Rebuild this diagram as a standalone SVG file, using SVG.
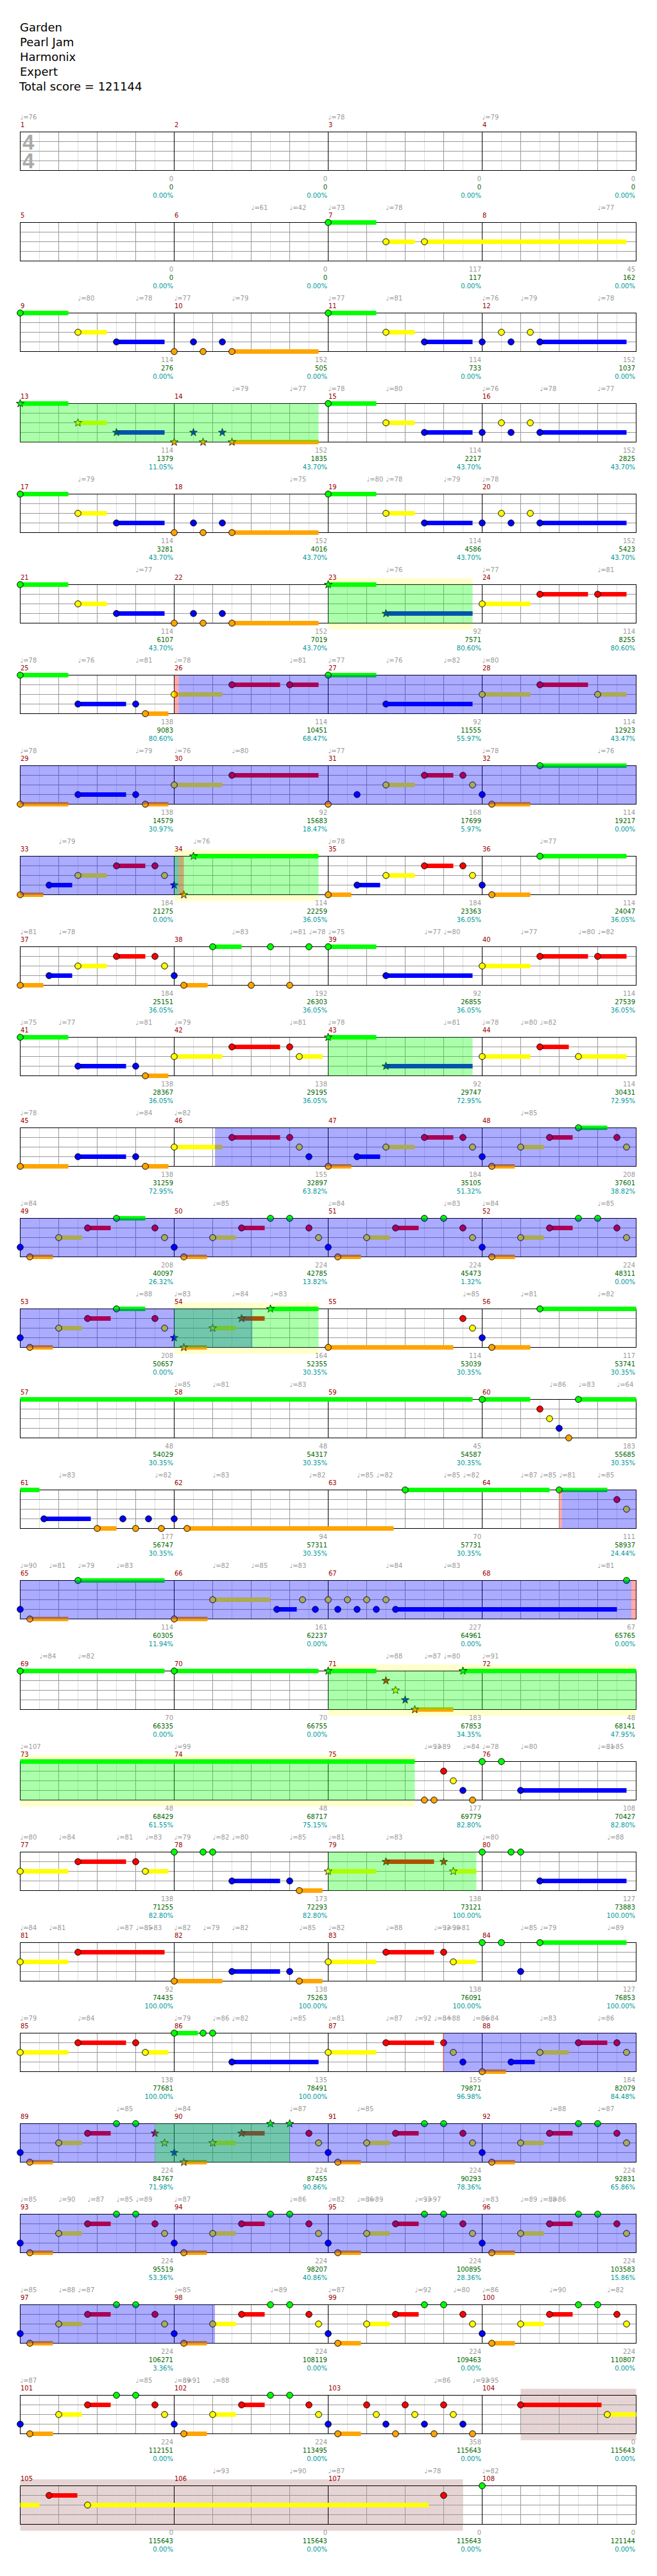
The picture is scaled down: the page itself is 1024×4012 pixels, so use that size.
<svg xmlns="http://www.w3.org/2000/svg" width="1024" height="4012" viewBox="0 0 1024 4012">
<style>
text{font-family:"DejaVu Sans",Verdana,sans-serif}
.h{font-size:18px;fill:#000}
.t{font-size:10px}
.mn{fill:#900}
.tp{fill:#999}
.a,.b,.c{text-anchor:end}
.a{fill:#999}.b{fill:#060}.c{fill:#099}
.sg,.sr,.sy,.sb,.so{stroke-width:7;fill:none}
.sg{stroke:#0f0}.sr{stroke:#f00}.sy{stroke:#ff0}.sb{stroke:#00f}.so{stroke:#ffa500}
.ob{fill:#00f;opacity:.33}.og{fill:#0f0;opacity:.33}.op{fill:#f00;opacity:.33}
.by{fill:#ffc}.br{fill:#e6d4d4}
.ts{font:bold 33px "Liberation Sans",Arial,sans-serif;fill:#aaa}
</style>
<defs>
<rect id="W" width="960" height="60" fill="#fff"/>
<g id="grid" fill="none">
<path stroke="#ddd" d="M30 0V60M90 0V60M150 0V60M210 0V60M270 0V60M330 0V60M390 0V60M450 0V60M510 0V60M570 0V60M630 0V60M690 0V60M750 0V60M810 0V60M870 0V60M930 0V60"/>
<path stroke="#999" d="M60 0V60M120 0V60M180 0V60M300 0V60M360 0V60M420 0V60M540 0V60M600 0V60M660 0V60M780 0V60M840 0V60M900 0V60M0 15H960M0 30H960M0 45H960"/>
<path stroke="#000" d="M240 0V60M480 0V60M720 0V60"/>
<rect width="960" height="60" stroke="#000"/>
</g>
<circle id="G" r="4.8" fill="#0f0" stroke="#000"/>
<circle id="R" cy="15" r="4.8" fill="#f00" stroke="#000"/>
<circle id="Y" cy="30" r="4.8" fill="#ff0" stroke="#000"/>
<circle id="B" cy="45" r="4.8" fill="#00f" stroke="#000"/>
<circle id="O" cy="60" r="4.8" fill="#ffa500" stroke="#000"/>
<path id="st" d="M0,-6.5L1.53,-2.1L6.18,-2.01L2.47,0.8L3.82,5.26L0,2.6L-3.82,5.26L-2.47,0.8L-6.18,-2.01L-1.53,-2.1Z" stroke="#000" stroke-width=".8"/>
<use id="SG" href="#st" fill="#0f0"/>
<use id="SR" href="#st" y="15" fill="#f00"/>
<use id="SY" href="#st" y="30" fill="#ff0"/>
<use id="SB" href="#st" y="45" fill="#00f"/>
<use id="SO" href="#st" y="60" fill="#ffa500"/>
<g id="pA"><path class="sg" d="M0 0H75"/><path class="sy" d="M90 30H135"/><path class="sb" d="M150 45H225"/><path class="so" d="M330 60H465"/><use href="#G"/><use href="#Y" x="90"/><use href="#B" x="150"/><use href="#O" x="240"/><use href="#B" x="270"/><use href="#O" x="285"/><use href="#B" x="315"/><use href="#O" x="330"/></g>
<g id="pA2"><path class="sg" d="M480 0H555"/><path class="sy" d="M570 30H615"/><path class="sb" d="M630 45H705M810 45H945"/><use href="#G" x="480"/><use href="#Y" x="570"/><use href="#B" x="630"/><use href="#B" x="720"/><use href="#Y" x="750"/><use href="#B" x="765"/><use href="#Y" x="795"/><use href="#B" x="810"/></g>
<g id="pB"><path class="so" d="M15 60H51"/><path class="sy" d="M60 30H96"/><path class="sr" d="M105 15H141"/><use href="#B"/><use href="#O" x="15"/><use href="#Y" x="60"/><use href="#R" x="105"/><use href="#G" x="150"/><use href="#G" x="180"/><use href="#R" x="210"/><use href="#Y" x="225"/></g>
</defs>
<rect width="1024" height="4012" fill="#fff"/>
<g id="header">
<text class="h" x="31" y="49">Garden</text>
<text class="h" x="31" y="72">Pearl Jam</text>
<text class="h" x="31" y="95">Harmonix</text>
<text class="h" x="31" y="118">Expert</text>
<text class="h" x="30" y="141">Total score = 121144</text>
</g>

<g id="row1" transform="translate(31.5,205.5)">
<use href="#W"/><use href="#grid"/>
<text class="ts" x="3.5" y="27">4</text><text class="ts" x="3.5" y="56">4</text>
<text class="t mn" y="-7.5"><tspan x=".5">1</tspan><tspan x="240.5">2</tspan><tspan x="480.5">3</tspan><tspan x="720.5">4</tspan></text>
<text class="t tp" y="-20"><tspan x="0">♩=76</tspan><tspan x="480">♩=78</tspan><tspan x="720">♩=79</tspan></text>
<text class="t a" y="76"><tspan x="238.5">0</tspan><tspan x="478.5">0</tspan><tspan x="718.5">0</tspan><tspan x="958.5">0</tspan></text>
<text class="t b" y="89.5"><tspan x="238.5">0</tspan><tspan x="478.5">0</tspan><tspan x="718.5">0</tspan><tspan x="958.5">0</tspan></text>
<text class="t c" y="102.5"><tspan x="238.5">0.00%</tspan><tspan x="478.5">0.00%</tspan><tspan x="718.5">0.00%</tspan><tspan x="958.5">0.00%</tspan></text>
</g>

<g id="row2" transform="translate(31.5,346.5)">
<use href="#W"/><use href="#grid"/>
<path class="sg" d="M480 0H555"/><path class="sy" d="M570 30H615M630 30H945"/>
<use href="#G" x="480"/><use href="#Y" x="570"/><use href="#Y" x="630"/>
<text class="t mn" y="-7.5"><tspan x=".5">5</tspan><tspan x="240.5">6</tspan><tspan x="480.5">7</tspan><tspan x="720.5">8</tspan></text>
<text class="t tp" y="-20"><tspan x="360">♩=61</tspan><tspan x="420">♩=42</tspan><tspan x="480">♩=73</tspan><tspan x="570">♩=78</tspan><tspan x="900">♩=77</tspan></text>
<text class="t a" y="76"><tspan x="238.5">0</tspan><tspan x="478.5">0</tspan><tspan x="718.5">117</tspan><tspan x="958.5">45</tspan></text>
<text class="t b" y="89.5"><tspan x="238.5">0</tspan><tspan x="478.5">0</tspan><tspan x="718.5">117</tspan><tspan x="958.5">162</tspan></text>
<text class="t c" y="102.5"><tspan x="238.5">0.00%</tspan><tspan x="478.5">0.00%</tspan><tspan x="718.5">0.00%</tspan><tspan x="958.5">0.00%</tspan></text>
</g>

<g id="row3" transform="translate(31.5,487.5)">
<use href="#W"/><use href="#grid"/>
<use href="#pA"/><use href="#pA2"/>
<text class="t mn" y="-7.5"><tspan x=".5">9</tspan><tspan x="240.5">10</tspan><tspan x="480.5">11</tspan><tspan x="720.5">12</tspan></text>
<text class="t tp" y="-20"><tspan x="90">♩=80</tspan><tspan x="180">♩=78</tspan><tspan x="240">♩=77</tspan><tspan x="330">♩=79</tspan><tspan x="480">♩=77</tspan><tspan x="570">♩=81</tspan><tspan x="720">♩=76</tspan><tspan x="780">♩=79</tspan><tspan x="900">♩=78</tspan></text>
<text class="t a" y="76"><tspan x="238.5">114</tspan><tspan x="478.5">152</tspan><tspan x="718.5">114</tspan><tspan x="958.5">152</tspan></text>
<text class="t b" y="89.5"><tspan x="238.5">276</tspan><tspan x="478.5">505</tspan><tspan x="718.5">733</tspan><tspan x="958.5">1037</tspan></text>
<text class="t c" y="102.5"><tspan x="238.5">0.00%</tspan><tspan x="478.5">0.00%</tspan><tspan x="718.5">0.00%</tspan><tspan x="958.5">0.00%</tspan></text>
</g>

<g id="row4" transform="translate(31.5,628.5)">
<use href="#W"/><use href="#grid"/>
<path class="sg" d="M0 0H75"/><path class="sy" d="M90 30H135"/><path class="sb" d="M150 45H225"/><path class="so" d="M330 60H465"/>
<use href="#SG"/><use href="#SY" x="90"/><use href="#SB" x="150"/><use href="#SO" x="240"/><use href="#SB" x="270"/><use href="#SO" x="285"/><use href="#SB" x="315"/><use href="#SO" x="330"/>
<use href="#pA2"/>
<rect class="og" width="465" height="60"/>
<text class="t mn" y="-7.5"><tspan x=".5">13</tspan><tspan x="240.5">14</tspan><tspan x="480.5">15</tspan><tspan x="720.5">16</tspan></text>
<text class="t tp" y="-20"><tspan x="330">♩=79</tspan><tspan x="420">♩=77</tspan><tspan x="480">♩=78</tspan><tspan x="570">♩=80</tspan><tspan x="720">♩=76</tspan><tspan x="810">♩=78</tspan><tspan x="900">♩=77</tspan></text>
<text class="t a" y="76"><tspan x="238.5">114</tspan><tspan x="478.5">152</tspan><tspan x="718.5">114</tspan><tspan x="958.5">152</tspan></text>
<text class="t b" y="89.5"><tspan x="238.5">1379</tspan><tspan x="478.5">1835</tspan><tspan x="718.5">2217</tspan><tspan x="958.5">2825</tspan></text>
<text class="t c" y="102.5"><tspan x="238.5">11.05%</tspan><tspan x="478.5">43.70%</tspan><tspan x="718.5">43.70%</tspan><tspan x="958.5">43.70%</tspan></text>
</g>

<g id="row5" transform="translate(31.5,769.5)">
<use href="#W"/><use href="#grid"/>
<use href="#pA"/><use href="#pA2"/>
<text class="t mn" y="-7.5"><tspan x=".5">17</tspan><tspan x="240.5">18</tspan><tspan x="480.5">19</tspan><tspan x="720.5">20</tspan></text>
<text class="t tp" y="-20"><tspan x="90">♩=79</tspan><tspan x="420">♩=75</tspan><tspan x="540">♩=80</tspan><tspan x="570">♩=78</tspan><tspan x="660">♩=79</tspan><tspan x="720">♩=78</tspan></text>
<text class="t a" y="76"><tspan x="238.5">114</tspan><tspan x="478.5">152</tspan><tspan x="718.5">114</tspan><tspan x="958.5">152</tspan></text>
<text class="t b" y="89.5"><tspan x="238.5">3281</tspan><tspan x="478.5">4016</tspan><tspan x="718.5">4586</tspan><tspan x="958.5">5423</tspan></text>
<text class="t c" y="102.5"><tspan x="238.5">43.70%</tspan><tspan x="478.5">43.70%</tspan><tspan x="718.5">43.70%</tspan><tspan x="958.5">43.70%</tspan></text>
</g>

<g id="row6" transform="translate(31.5,910.5)">
<rect class="by" x="480" y="-10" width="225" height="80"/>
<use href="#W"/><use href="#grid"/>
<use href="#pA"/>
<path class="sg" d="M480 0H555"/><path class="sb" d="M570 45H705"/><path class="sy" d="M720 30H795"/><path class="sr" d="M810 15H885M900 15H945"/>
<use href="#SG" x="480"/><use href="#SB" x="570"/><use href="#Y" x="720"/><use href="#R" x="810"/><use href="#R" x="900"/>
<rect class="og" x="480" width="225" height="60"/>
<text class="t mn" y="-7.5"><tspan x=".5">21</tspan><tspan x="240.5">22</tspan><tspan x="480.5">23</tspan><tspan x="720.5">24</tspan></text>
<text class="t tp" y="-20"><tspan x="180">♩=77</tspan><tspan x="570">♩=76</tspan><tspan x="720">♩=77</tspan><tspan x="900">♩=81</tspan></text>
<text class="t a" y="76"><tspan x="238.5">114</tspan><tspan x="478.5">152</tspan><tspan x="718.5">92</tspan><tspan x="958.5">114</tspan></text>
<text class="t b" y="89.5"><tspan x="238.5">6107</tspan><tspan x="478.5">7019</tspan><tspan x="718.5">7571</tspan><tspan x="958.5">8255</tspan></text>
<text class="t c" y="102.5"><tspan x="238.5">43.70%</tspan><tspan x="478.5">43.70%</tspan><tspan x="718.5">80.60%</tspan><tspan x="958.5">80.60%</tspan></text>
</g>

<g id="row7" transform="translate(31.5,1051.5)">
<use href="#W"/><use href="#grid"/>
<path class="sg" d="M0 0H75M480 0H555"/><path class="sb" d="M90 45H165M570 45H705"/><path class="so" d="M195 60H231"/><path class="sy" d="M240 30H315M720 30H795M900 30H945"/><path class="sr" d="M330 15H405M420 15H465M810 15H885"/>
<use href="#G"/><use href="#G" x="480"/><use href="#B" x="90"/><use href="#B" x="180"/><use href="#B" x="570"/><use href="#O" x="195"/><use href="#Y" x="240"/><use href="#Y" x="720"/><use href="#Y" x="900"/><use href="#R" x="330"/><use href="#R" x="420"/><use href="#R" x="810"/>
<rect class="op" x="240" width="7" height="60"/><rect class="ob" x="247" width="713" height="60"/>
<text class="t mn" y="-7.5"><tspan x=".5">25</tspan><tspan x="240.5">26</tspan><tspan x="480.5">27</tspan><tspan x="720.5">28</tspan></text>
<text class="t tp" y="-20"><tspan x="0">♩=78</tspan><tspan x="90">♩=76</tspan><tspan x="180">♩=81</tspan><tspan x="240">♩=78</tspan><tspan x="420">♩=81</tspan><tspan x="480">♩=77</tspan><tspan x="570">♩=76</tspan><tspan x="660">♩=82</tspan><tspan x="720">♩=80</tspan></text>
<text class="t a" y="76"><tspan x="238.5">138</tspan><tspan x="478.5">114</tspan><tspan x="718.5">92</tspan><tspan x="958.5">114</tspan></text>
<text class="t b" y="89.5"><tspan x="238.5">9083</tspan><tspan x="478.5">10451</tspan><tspan x="718.5">11555</tspan><tspan x="958.5">12923</tspan></text>
<text class="t c" y="102.5"><tspan x="238.5">80.60%</tspan><tspan x="478.5">68.47%</tspan><tspan x="718.5">55.97%</tspan><tspan x="958.5">43.47%</tspan></text>
</g>

<g id="row8" transform="translate(31.5,1192.5)">
<use href="#W"/><use href="#grid"/>
<path class="so" d="M0 60H75M195 60H231M735 60H795"/><path class="sb" d="M90 45H165"/><path class="sy" d="M240 30H315M570 30H615"/><path class="sr" d="M330 15H465M630 15H675"/><path class="sg" d="M810 0H945"/>
<use href="#O"/><use href="#O" x="195"/><use href="#O" x="480"/><use href="#O" x="735"/><use href="#B" x="90"/><use href="#B" x="180"/><use href="#B" x="525"/><use href="#B" x="720"/><use href="#Y" x="240"/><use href="#Y" x="570"/><use href="#Y" x="705"/><use href="#R" x="330"/><use href="#R" x="630"/><use href="#R" x="690"/><use href="#G" x="810"/>
<rect class="ob" width="960" height="60"/>
<text class="t mn" y="-7.5"><tspan x=".5">29</tspan><tspan x="240.5">30</tspan><tspan x="480.5">31</tspan><tspan x="720.5">32</tspan></text>
<text class="t tp" y="-20"><tspan x="0">♩=78</tspan><tspan x="180">♩=79</tspan><tspan x="240">♩=76</tspan><tspan x="330">♩=80</tspan><tspan x="480">♩=77</tspan><tspan x="720">♩=78</tspan><tspan x="900">♩=76</tspan></text>
<text class="t a" y="76"><tspan x="238.5">138</tspan><tspan x="478.5">92</tspan><tspan x="718.5">168</tspan><tspan x="958.5">114</tspan></text>
<text class="t b" y="89.5"><tspan x="238.5">14579</tspan><tspan x="478.5">15683</tspan><tspan x="718.5">17699</tspan><tspan x="958.5">19217</tspan></text>
<text class="t c" y="102.5"><tspan x="238.5">30.97%</tspan><tspan x="478.5">18.47%</tspan><tspan x="718.5">5.97%</tspan><tspan x="958.5">0.00%</tspan></text>
</g>

<g id="row9" transform="translate(31.5,1333.5)">
<rect class="by" x="240" y="-10" width="225" height="80"/>
<use href="#W"/><use href="#grid"/>
<path class="so" d="M0 60H36M480 60H516M735 60H795"/><path class="sb" d="M45 45H81M525 45H561"/><path class="sy" d="M90 30H135M570 30H615"/><path class="sr" d="M150 15H195M630 15H675"/><path class="sg" d="M270 0H465M810 0H945"/>
<use href="#O"/><use href="#O" x="480"/><use href="#O" x="735"/><use href="#B" x="45"/><use href="#B" x="525"/><use href="#B" x="720"/><use href="#Y" x="90"/><use href="#Y" x="225"/><use href="#Y" x="570"/><use href="#Y" x="705"/><use href="#R" x="150"/><use href="#R" x="210"/><use href="#R" x="630"/><use href="#R" x="690"/><use href="#G" x="810"/>
<use href="#SB" x="240"/><use href="#SO" x="255"/><use href="#SG" x="270"/>
<rect class="ob" width="247" height="60"/><rect class="og" x="240" width="225" height="60"/><rect class="op" x="247" width="8" height="60"/>
<text class="t mn" y="-7.5"><tspan x=".5">33</tspan><tspan x="240.5">34</tspan><tspan x="480.5">35</tspan><tspan x="720.5">36</tspan></text>
<text class="t tp" y="-20"><tspan x="60">♩=79</tspan><tspan x="270">♩=76</tspan><tspan x="480">♩=78</tspan><tspan x="810">♩=77</tspan></text>
<text class="t a" y="76"><tspan x="238.5">184</tspan><tspan x="478.5">114</tspan><tspan x="718.5">184</tspan><tspan x="958.5">114</tspan></text>
<text class="t b" y="89.5"><tspan x="238.5">21275</tspan><tspan x="478.5">22259</tspan><tspan x="718.5">23363</tspan><tspan x="958.5">24047</tspan></text>
<text class="t c" y="102.5"><tspan x="238.5">0.00%</tspan><tspan x="478.5">36.05%</tspan><tspan x="718.5">36.05%</tspan><tspan x="958.5">36.05%</tspan></text>
</g>

<g id="row10" transform="translate(31.5,1474.5)">
<use href="#W"/><use href="#grid"/>
<path class="so" d="M0 60H36M255 60H292"/><path class="sb" d="M45 45H81M570 45H705"/><path class="sy" d="M90 30H135M720 30H795"/><path class="sr" d="M150 15H195M810 15H885M900 15H945"/><path class="sg" d="M300 0H345M480 0H555"/>
<use href="#O"/><use href="#O" x="255"/><use href="#O" x="360"/><use href="#O" x="420"/><use href="#B" x="45"/><use href="#B" x="240"/><use href="#B" x="570"/><use href="#Y" x="90"/><use href="#Y" x="225"/><use href="#Y" x="720"/><use href="#R" x="150"/><use href="#R" x="210"/><use href="#R" x="810"/><use href="#R" x="900"/><use href="#G" x="300"/><use href="#G" x="390"/><use href="#G" x="450"/><use href="#G" x="480"/>
<text class="t mn" y="-7.5"><tspan x=".5">37</tspan><tspan x="240.5">38</tspan><tspan x="480.5">39</tspan><tspan x="720.5">40</tspan></text>
<text class="t tp" y="-20"><tspan x="0">♩=81</tspan><tspan x="60">♩=78</tspan><tspan x="330">♩=83</tspan><tspan x="420">♩=81</tspan><tspan x="450">♩=78</tspan><tspan x="480">♩=75</tspan><tspan x="630">♩=77</tspan><tspan x="660">♩=80</tspan><tspan x="780">♩=77</tspan><tspan x="870">♩=80</tspan><tspan x="900">♩=82</tspan></text>
<text class="t a" y="76"><tspan x="238.5">184</tspan><tspan x="478.5">192</tspan><tspan x="718.5">92</tspan><tspan x="958.5">114</tspan></text>
<text class="t b" y="89.5"><tspan x="238.5">25151</tspan><tspan x="478.5">26303</tspan><tspan x="718.5">26855</tspan><tspan x="958.5">27539</tspan></text>
<text class="t c" y="102.5"><tspan x="238.5">36.05%</tspan><tspan x="478.5">36.05%</tspan><tspan x="718.5">36.05%</tspan><tspan x="958.5">36.05%</tspan></text>
</g>

<g id="row11" transform="translate(31.5,1615.5)">
<use href="#W"/><use href="#grid"/>
<path class="sg" d="M0 0H75M480 0H555"/><path class="sb" d="M90 45H165M570 45H705"/><path class="so" d="M195 60H231"/><path class="sy" d="M240 30H315M435 30H471M720 30H795M870 30H945"/><path class="sr" d="M330 15H405M810 15H855"/>
<use href="#G"/><use href="#B" x="90"/><use href="#B" x="180"/><use href="#O" x="195"/><use href="#Y" x="240"/><use href="#Y" x="435"/><use href="#Y" x="720"/><use href="#Y" x="870"/><use href="#R" x="330"/><use href="#R" x="420"/><use href="#R" x="810"/>
<use href="#SG" x="480"/><use href="#SB" x="570"/>
<rect class="og" x="480" width="225" height="60"/>
<text class="t mn" y="-7.5"><tspan x=".5">41</tspan><tspan x="240.5">42</tspan><tspan x="480.5">43</tspan><tspan x="720.5">44</tspan></text>
<text class="t tp" y="-20"><tspan x="0">♩=75</tspan><tspan x="60">♩=77</tspan><tspan x="180">♩=81</tspan><tspan x="240">♩=79</tspan><tspan x="420">♩=81</tspan><tspan x="480">♩=78</tspan><tspan x="660">♩=81</tspan><tspan x="720">♩=78</tspan><tspan x="780">♩=80</tspan><tspan x="810">♩=82</tspan></text>
<text class="t a" y="76"><tspan x="238.5">138</tspan><tspan x="478.5">138</tspan><tspan x="718.5">92</tspan><tspan x="958.5">114</tspan></text>
<text class="t b" y="89.5"><tspan x="238.5">28367</tspan><tspan x="478.5">29195</tspan><tspan x="718.5">29747</tspan><tspan x="958.5">30431</tspan></text>
<text class="t c" y="102.5"><tspan x="238.5">36.05%</tspan><tspan x="478.5">36.05%</tspan><tspan x="718.5">72.95%</tspan><tspan x="958.5">72.95%</tspan></text>
</g>

<g id="row12" transform="translate(31.5,1756.5)">
<use href="#W"/><use href="#grid"/>
<path class="so" d="M0 60H75M195 60H231M480 60H516M735 60H771"/><path class="sb" d="M90 45H165M525 45H561"/><path class="sy" d="M240 30H315M570 30H615M780 30H816"/><path class="sr" d="M330 15H405M630 15H675M825 15H861"/><path class="sg" d="M870 0H915"/>
<use href="#O"/><use href="#O" x="195"/><use href="#O" x="480"/><use href="#O" x="735"/><use href="#B" x="90"/><use href="#B" x="180"/><use href="#B" x="450"/><use href="#B" x="525"/><use href="#B" x="720"/><use href="#Y" x="240"/><use href="#Y" x="435"/><use href="#Y" x="570"/><use href="#Y" x="705"/><use href="#Y" x="780"/><use href="#Y" x="945"/><use href="#R" x="330"/><use href="#R" x="420"/><use href="#R" x="630"/><use href="#R" x="690"/><use href="#R" x="825"/><use href="#R" x="930"/><use href="#G" x="870"/>
<rect class="ob" x="303.6" width="656.4" height="60"/>
<text class="t mn" y="-7.5"><tspan x=".5">45</tspan><tspan x="240.5">46</tspan><tspan x="480.5">47</tspan><tspan x="720.5">48</tspan></text>
<text class="t tp" y="-20"><tspan x="0">♩=78</tspan><tspan x="180">♩=84</tspan><tspan x="240">♩=82</tspan><tspan x="780">♩=85</tspan></text>
<text class="t a" y="76"><tspan x="238.5">138</tspan><tspan x="478.5">155</tspan><tspan x="718.5">184</tspan><tspan x="958.5">208</tspan></text>
<text class="t b" y="89.5"><tspan x="238.5">31259</tspan><tspan x="478.5">32897</tspan><tspan x="718.5">35105</tspan><tspan x="958.5">37601</tspan></text>
<text class="t c" y="102.5"><tspan x="238.5">72.95%</tspan><tspan x="478.5">63.82%</tspan><tspan x="718.5">51.32%</tspan><tspan x="958.5">38.82%</tspan></text>
</g>

<g id="row13" transform="translate(31.5,1897.5)">
<use href="#W"/><use href="#grid"/>
<path class="so" d="M15 60H51"/><path class="sy" d="M60 30H96"/><path class="sr" d="M105 15H141"/><path class="sg" d="M150 0H195"/>
<use href="#B"/><use href="#O" x="15"/><use href="#Y" x="60"/><use href="#R" x="105"/><use href="#G" x="150"/><use href="#R" x="210"/><use href="#Y" x="225"/>
<use href="#pB" x="240"/><use href="#pB" x="480"/><use href="#pB" x="720"/>
<rect class="ob" width="960" height="60"/>
<text class="t mn" y="-7.5"><tspan x=".5">49</tspan><tspan x="240.5">50</tspan><tspan x="480.5">51</tspan><tspan x="720.5">52</tspan></text>
<text class="t tp" y="-20"><tspan x="0">♩=84</tspan><tspan x="300">♩=85</tspan><tspan x="480">♩=84</tspan><tspan x="660">♩=83</tspan><tspan x="720">♩=84</tspan><tspan x="900">♩=85</tspan></text>
<text class="t a" y="76"><tspan x="238.5">208</tspan><tspan x="478.5">224</tspan><tspan x="718.5">224</tspan><tspan x="958.5">224</tspan></text>
<text class="t b" y="89.5"><tspan x="238.5">40097</tspan><tspan x="478.5">42785</tspan><tspan x="718.5">45473</tspan><tspan x="958.5">48311</tspan></text>
<text class="t c" y="102.5"><tspan x="238.5">26.32%</tspan><tspan x="478.5">13.82%</tspan><tspan x="718.5">1.32%</tspan><tspan x="958.5">0.00%</tspan></text>
</g>

<g id="row14" transform="translate(31.5,2038.5)">
<rect class="by" x="240" y="-10" width="225" height="80"/>
<use href="#W"/><use href="#grid"/>
<path class="so" d="M15 60H51M255 60H291M480 60H675M735 60H795"/><path class="sy" d="M60 30H96M300 30H336"/><path class="sr" d="M105 15H141M345 15H381"/><path class="sg" d="M150 0H195M390 0H465M810 0H960"/>
<use href="#B"/><use href="#O" x="15"/><use href="#Y" x="60"/><use href="#R" x="105"/><use href="#G" x="150"/><use href="#R" x="210"/><use href="#Y" x="225"/>
<use href="#SB" x="240"/><use href="#SO" x="255"/><use href="#SY" x="300"/><use href="#SR" x="345"/><use href="#SG" x="390"/>
<use href="#O" x="480"/><use href="#R" x="690"/><use href="#Y" x="705"/><use href="#B" x="720"/><use href="#O" x="735"/><use href="#G" x="810"/>
<rect class="ob" width="362" height="60"/><rect class="og" x="240" width="225" height="60"/>
<text class="t mn" y="-7.5"><tspan x=".5">53</tspan><tspan x="240.5">54</tspan><tspan x="480.5">55</tspan><tspan x="720.5">56</tspan></text>
<text class="t tp" y="-20"><tspan x="180">♩=88</tspan><tspan x="240">♩=83</tspan><tspan x="330">♩=84</tspan><tspan x="390">♩=83</tspan><tspan x="690">♩=85</tspan><tspan x="780">♩=81</tspan><tspan x="900">♩=82</tspan></text>
<text class="t a" y="76"><tspan x="238.5">208</tspan><tspan x="478.5">164</tspan><tspan x="718.5">114</tspan><tspan x="958.5">117</tspan></text>
<text class="t b" y="89.5"><tspan x="238.5">50657</tspan><tspan x="478.5">52355</tspan><tspan x="718.5">53039</tspan><tspan x="958.5">53741</tspan></text>
<text class="t c" y="102.5"><tspan x="238.5">0.00%</tspan><tspan x="478.5">30.35%</tspan><tspan x="718.5">30.35%</tspan><tspan x="958.5">30.35%</tspan></text>
</g>

<g id="row15" transform="translate(31.5,2179.5)">
<use href="#W"/><use href="#grid"/>
<path class="sg" d="M0 0H705M720 0H795M870 0H960"/>
<use href="#G" x="720"/><use href="#R" x="810"/><use href="#Y" x="825"/><use href="#B" x="840"/><use href="#O" x="855"/><use href="#G" x="870"/>
<text class="t mn" y="-7.5"><tspan x=".5">57</tspan><tspan x="240.5">58</tspan><tspan x="480.5">59</tspan><tspan x="720.5">60</tspan></text>
<text class="t tp" y="-20"><tspan x="240">♩=85</tspan><tspan x="300">♩=81</tspan><tspan x="420">♩=83</tspan><tspan x="825">♩=86</tspan><tspan x="870">♩=83</tspan><tspan x="930">♩=64</tspan></text>
<text class="t a" y="76"><tspan x="238.5">48</tspan><tspan x="478.5">48</tspan><tspan x="718.5">45</tspan><tspan x="958.5">183</tspan></text>
<text class="t b" y="89.5"><tspan x="238.5">54029</tspan><tspan x="478.5">54317</tspan><tspan x="718.5">54587</tspan><tspan x="958.5">55685</tspan></text>
<text class="t c" y="102.5"><tspan x="238.5">30.35%</tspan><tspan x="478.5">30.35%</tspan><tspan x="718.5">30.35%</tspan><tspan x="958.5">30.35%</tspan></text>
</g>

<g id="row16" transform="translate(31.5,2320.5)">
<use href="#W"/><use href="#grid"/>
<path class="sg" d="M0 0H30M600 0H825M840 0H915"/><path class="sb" d="M37 45H110"/><path class="so" d="M120 60H150M260 60H582"/>
<use href="#B" x="37"/><use href="#O" x="120"/><use href="#B" x="160"/><use href="#O" x="180"/><use href="#B" x="200"/><use href="#O" x="220"/><use href="#B" x="240"/><use href="#O" x="260"/><use href="#G" x="600"/><use href="#G" x="840"/><use href="#R" x="930"/><use href="#Y" x="945"/>
<rect class="op" x="840" width="4.5" height="60"/><rect class="ob" x="844.5" width="115.5" height="60"/>
<text class="t mn" y="-7.5"><tspan x=".5">61</tspan><tspan x="240.5">62</tspan><tspan x="480.5">63</tspan><tspan x="720.5">64</tspan></text>
<text class="t tp" y="-20"><tspan x="60">♩=83</tspan><tspan x="210">♩=82</tspan><tspan x="300">♩=83</tspan><tspan x="450">♩=82</tspan><tspan x="525">♩=85</tspan><tspan x="555">♩=82</tspan><tspan x="660">♩=85</tspan><tspan x="690">♩=82</tspan><tspan x="780">♩=87</tspan><tspan x="810">♩=85</tspan><tspan x="840">♩=81</tspan><tspan x="900">♩=85</tspan></text>
<text class="t a" y="76"><tspan x="238.5">177</tspan><tspan x="478.5">94</tspan><tspan x="718.5">70</tspan><tspan x="958.5">111</tspan></text>
<text class="t b" y="89.5"><tspan x="238.5">56747</tspan><tspan x="478.5">57311</tspan><tspan x="718.5">57731</tspan><tspan x="958.5">58937</tspan></text>
<text class="t c" y="102.5"><tspan x="238.5">30.35%</tspan><tspan x="478.5">30.35%</tspan><tspan x="718.5">30.35%</tspan><tspan x="958.5">24.44%</tspan></text>
</g>

<g id="row17" transform="translate(31.5,2461.5)">
<use href="#W"/><use href="#grid"/>
<path class="so" d="M15 60H75M240 60H292"/><path class="sg" d="M90 0H225"/><path class="sy" d="M300 30H390"/><path class="sb" d="M400 45H431M585 45H930"/>
<use href="#B"/><use href="#O" x="15"/><use href="#G" x="90"/><use href="#O" x="240"/><use href="#Y" x="300"/><use href="#B" x="400"/><use href="#Y" x="440"/><use href="#B" x="460"/><use href="#Y" x="480"/><use href="#B" x="495"/><use href="#Y" x="510"/><use href="#B" x="525"/><use href="#Y" x="540"/><use href="#B" x="555"/><use href="#Y" x="570"/><use href="#B" x="585"/><use href="#G" x="945"/>
<rect class="ob" width="952.5" height="60"/><rect class="op" x="952.5" width="7.5" height="60"/>
<text class="t mn" y="-7.5"><tspan x=".5">65</tspan><tspan x="240.5">66</tspan><tspan x="480.5">67</tspan><tspan x="720.5">68</tspan></text>
<text class="t tp" y="-20"><tspan x="0">♩=90</tspan><tspan x="45">♩=81</tspan><tspan x="90">♩=79</tspan><tspan x="150">♩=83</tspan><tspan x="300">♩=82</tspan><tspan x="360">♩=85</tspan><tspan x="420">♩=83</tspan><tspan x="570">♩=84</tspan><tspan x="660">♩=83</tspan><tspan x="900">♩=81</tspan></text>
<text class="t a" y="76"><tspan x="238.5">114</tspan><tspan x="478.5">161</tspan><tspan x="718.5">227</tspan><tspan x="958.5">67</tspan></text>
<text class="t b" y="89.5"><tspan x="238.5">60305</tspan><tspan x="478.5">62237</tspan><tspan x="718.5">64961</tspan><tspan x="958.5">65765</tspan></text>
<text class="t c" y="102.5"><tspan x="238.5">11.94%</tspan><tspan x="478.5">0.00%</tspan><tspan x="718.5">0.00%</tspan><tspan x="958.5">0.00%</tspan></text>
</g>

<g id="row18" transform="translate(31.5,2602.5)">
<rect class="by" x="480" y="-10" width="480" height="80"/>
<use href="#W"/><use href="#grid"/>
<path class="sg" d="M0 0H225M240 0H465M480 0H555M690 0H960"/><path class="so" d="M615 60H675"/>
<use href="#G"/><use href="#G" x="240"/>
<use href="#SG" x="480"/><use href="#SR" x="570"/><use href="#SY" x="585"/><use href="#SB" x="600"/><use href="#SO" x="615"/><use href="#SG" x="690"/>
<rect class="og" x="480" width="480" height="60"/>
<text class="t mn" y="-7.5"><tspan x=".5">69</tspan><tspan x="240.5">70</tspan><tspan x="480.5">71</tspan><tspan x="720.5">72</tspan></text>
<text class="t tp" y="-20"><tspan x="30">♩=84</tspan><tspan x="90">♩=82</tspan><tspan x="570">♩=88</tspan><tspan x="630">♩=87</tspan><tspan x="660">♩=80</tspan><tspan x="720">♩=91</tspan></text>
<text class="t a" y="76"><tspan x="238.5">70</tspan><tspan x="478.5">70</tspan><tspan x="718.5">183</tspan><tspan x="958.5">48</tspan></text>
<text class="t b" y="89.5"><tspan x="238.5">66335</tspan><tspan x="478.5">66755</tspan><tspan x="718.5">67853</tspan><tspan x="958.5">68141</tspan></text>
<text class="t c" y="102.5"><tspan x="238.5">0.00%</tspan><tspan x="478.5">0.00%</tspan><tspan x="718.5">34.35%</tspan><tspan x="958.5">47.95%</tspan></text>
</g>

<g id="row19" transform="translate(31.5,2743.5)">
<rect class="by" y="-10" width="615" height="80"/>
<use href="#W"/><use href="#grid"/>
<path class="sg" d="M0 0H615"/><path class="sb" d="M780 45H945"/>
<use href="#O" x="630"/><use href="#O" x="645"/><use href="#R" x="660"/><use href="#Y" x="675"/><use href="#B" x="690"/><use href="#O" x="705"/><use href="#G" x="720"/><use href="#G" x="750"/><use href="#B" x="780"/>
<rect class="og" width="615" height="60"/>
<text class="t mn" y="-7.5"><tspan x=".5">73</tspan><tspan x="240.5">74</tspan><tspan x="480.5">75</tspan><tspan x="720.5">76</tspan></text>
<text class="t tp" y="-20"><tspan x="0">♩=107</tspan><tspan x="240">♩=99</tspan><tspan x="630">♩=93</tspan><tspan x="645">♩=89</tspan><tspan x="690">♩=84</tspan><tspan x="720">♩=78</tspan><tspan x="780">♩=80</tspan><tspan x="900">♩=81</tspan><tspan x="915">♩=85</tspan></text>
<text class="t a" y="76"><tspan x="238.5">48</tspan><tspan x="478.5">48</tspan><tspan x="718.5">177</tspan><tspan x="958.5">108</tspan></text>
<text class="t b" y="89.5"><tspan x="238.5">68429</tspan><tspan x="478.5">68717</tspan><tspan x="718.5">69779</tspan><tspan x="958.5">70427</tspan></text>
<text class="t c" y="102.5"><tspan x="238.5">61.55%</tspan><tspan x="478.5">75.15%</tspan><tspan x="718.5">82.80%</tspan><tspan x="958.5">82.80%</tspan></text>
</g>

<g id="row20" transform="translate(31.5,2884.5)">
<use href="#W"/><use href="#grid"/>
<path class="sy" d="M0 30H75M195 30H231M480 30H555M675 30H711"/><path class="sr" d="M90 15H165M570 15H645"/><path class="sb" d="M330 45H405M810 45H945"/><path class="so" d="M435 60H471"/>
<use href="#Y"/><use href="#Y" x="195"/><use href="#R" x="90"/><use href="#R" x="180"/><use href="#G" x="240"/><use href="#G" x="285"/><use href="#G" x="300"/><use href="#B" x="330"/><use href="#B" x="420"/><use href="#O" x="435"/><use href="#G" x="720"/><use href="#G" x="765"/><use href="#G" x="780"/><use href="#B" x="810"/>
<use href="#SY" x="480"/><use href="#SR" x="570"/><use href="#SR" x="660"/><use href="#SY" x="675"/>
<rect class="og" x="480" width="231" height="60"/>
<text class="t mn" y="-7.5"><tspan x=".5">77</tspan><tspan x="240.5">78</tspan><tspan x="480.5">79</tspan><tspan x="720.5">80</tspan></text>
<text class="t tp" y="-20"><tspan x="0">♩=80</tspan><tspan x="60">♩=84</tspan><tspan x="150">♩=81</tspan><tspan x="195">♩=83</tspan><tspan x="240">♩=79</tspan><tspan x="300">♩=82</tspan><tspan x="330">♩=80</tspan><tspan x="420">♩=85</tspan><tspan x="480">♩=81</tspan><tspan x="570">♩=83</tspan><tspan x="720">♩=80</tspan><tspan x="915">♩=88</tspan></text>
<text class="t a" y="76"><tspan x="238.5">138</tspan><tspan x="478.5">173</tspan><tspan x="718.5">138</tspan><tspan x="958.5">127</tspan></text>
<text class="t b" y="89.5"><tspan x="238.5">71255</tspan><tspan x="478.5">72293</tspan><tspan x="718.5">73121</tspan><tspan x="958.5">73883</tspan></text>
<text class="t c" y="102.5"><tspan x="238.5">82.80%</tspan><tspan x="478.5">82.80%</tspan><tspan x="718.5">100.00%</tspan><tspan x="958.5">100.00%</tspan></text>
</g>

<g id="row21" transform="translate(31.5,3025.5)">
<use href="#W"/><use href="#grid"/>
<path class="sy" d="M0 30H75M480 30H555M675 30H711"/><path class="sr" d="M90 15H225M570 15H645"/><path class="so" d="M240 60H315M435 60H471"/><path class="sb" d="M330 45H405"/><path class="sg" d="M810 0H945"/>
<use href="#Y"/><use href="#Y" x="480"/><use href="#Y" x="675"/><use href="#R" x="90"/><use href="#R" x="570"/><use href="#R" x="660"/><use href="#O" x="240"/><use href="#O" x="435"/><use href="#B" x="330"/><use href="#B" x="420"/><use href="#B" x="780"/><use href="#G" x="720"/><use href="#G" x="750"/><use href="#G" x="810"/>
<text class="t mn" y="-7.5"><tspan x=".5">81</tspan><tspan x="240.5">82</tspan><tspan x="480.5">83</tspan><tspan x="720.5">84</tspan></text>
<text class="t tp" y="-20"><tspan x="0">♩=84</tspan><tspan x="45">♩=81</tspan><tspan x="150">♩=87</tspan><tspan x="180">♩=85</tspan><tspan x="195">♩=83</tspan><tspan x="240">♩=82</tspan><tspan x="285">♩=79</tspan><tspan x="330">♩=82</tspan><tspan x="435">♩=85</tspan><tspan x="480">♩=82</tspan><tspan x="570">♩=88</tspan><tspan x="645">♩=92</tspan><tspan x="660">♩=90</tspan><tspan x="675">♩=81</tspan><tspan x="780">♩=85</tspan><tspan x="810">♩=79</tspan><tspan x="915">♩=89</tspan></text>
<text class="t a" y="76"><tspan x="238.5">92</tspan><tspan x="478.5">138</tspan><tspan x="718.5">138</tspan><tspan x="958.5">127</tspan></text>
<text class="t b" y="89.5"><tspan x="238.5">74435</tspan><tspan x="478.5">75263</tspan><tspan x="718.5">76091</tspan><tspan x="958.5">76853</tspan></text>
<text class="t c" y="102.5"><tspan x="238.5">100.00%</tspan><tspan x="478.5">100.00%</tspan><tspan x="718.5">100.00%</tspan><tspan x="958.5">100.00%</tspan></text>
</g>

<g id="row22" transform="translate(31.5,3166.5)">
<use href="#W"/><use href="#grid"/>
<path class="sy" d="M0 30H75M195 30H231M480 30H555M810 30H855"/><path class="sr" d="M90 15H165M570 15H645M870 15H915"/><path class="sg" d="M240 0H277"/><path class="sb" d="M330 45H465M765 45H802"/><path class="so" d="M720 60H757"/>
<use href="#Y"/><use href="#Y" x="195"/><use href="#Y" x="480"/><use href="#Y" x="675"/><use href="#Y" x="810"/><use href="#Y" x="945"/><use href="#R" x="90"/><use href="#R" x="180"/><use href="#R" x="570"/><use href="#R" x="660"/><use href="#R" x="870"/><use href="#R" x="930"/><use href="#G" x="240"/><use href="#G" x="285"/><use href="#G" x="300"/><use href="#B" x="330"/><use href="#B" x="690"/><use href="#B" x="765"/><use href="#O" x="720"/>
<rect class="op" x="658.5" width="2" height="60"/><rect class="ob" x="660.5" width="299.5" height="60"/>
<text class="t mn" y="-7.5"><tspan x=".5">85</tspan><tspan x="240.5">86</tspan><tspan x="480.5">87</tspan><tspan x="720.5">88</tspan></text>
<text class="t tp" y="-20"><tspan x="0">♩=79</tspan><tspan x="90">♩=84</tspan><tspan x="240">♩=79</tspan><tspan x="300">♩=86</tspan><tspan x="330">♩=82</tspan><tspan x="420">♩=85</tspan><tspan x="480">♩=81</tspan><tspan x="570">♩=87</tspan><tspan x="615">♩=92</tspan><tspan x="645">♩=84</tspan><tspan x="660">♩=88</tspan><tspan x="705">♩=86</tspan><tspan x="720">♩=84</tspan><tspan x="810">♩=83</tspan><tspan x="900">♩=86</tspan></text>
<text class="t a" y="76"><tspan x="238.5">138</tspan><tspan x="478.5">135</tspan><tspan x="718.5">155</tspan><tspan x="958.5">184</tspan></text>
<text class="t b" y="89.5"><tspan x="238.5">77681</tspan><tspan x="478.5">78491</tspan><tspan x="718.5">79871</tspan><tspan x="958.5">82079</tspan></text>
<text class="t c" y="102.5"><tspan x="238.5">100.00%</tspan><tspan x="478.5">100.00%</tspan><tspan x="718.5">96.98%</tspan><tspan x="958.5">84.48%</tspan></text>
</g>

<g id="row23" transform="translate(31.5,3307.5)">
<use href="#W"/><use href="#grid"/>
<path class="so" d="M15 60H51M255 60H291"/><path class="sy" d="M60 30H96M300 30H336"/><path class="sr" d="M105 15H141M345 15H381"/>
<use href="#B"/><use href="#O" x="15"/><use href="#Y" x="60"/><use href="#R" x="105"/><use href="#G" x="150"/><use href="#G" x="180"/>
<use href="#SR" x="210"/><use href="#SY" x="225"/><use href="#SB" x="240"/><use href="#SO" x="255"/><use href="#SY" x="300"/><use href="#SR" x="345"/><use href="#SG" x="390"/><use href="#SG" x="420"/>
<use href="#R" x="450"/><use href="#Y" x="465"/>
<use href="#pB" x="480"/><use href="#pB" x="720"/>
<rect class="ob" width="960" height="60"/><rect class="og" x="210" width="210" height="60"/>
<text class="t mn" y="-7.5"><tspan x=".5">89</tspan><tspan x="240.5">90</tspan><tspan x="480.5">91</tspan><tspan x="720.5">92</tspan></text>
<text class="t tp" y="-20"><tspan x="150">♩=85</tspan><tspan x="240">♩=84</tspan><tspan x="420">♩=87</tspan><tspan x="525">♩=85</tspan><tspan x="825">♩=88</tspan><tspan x="900">♩=87</tspan></text>
<text class="t a" y="76"><tspan x="238.5">224</tspan><tspan x="478.5">224</tspan><tspan x="718.5">224</tspan><tspan x="958.5">224</tspan></text>
<text class="t b" y="89.5"><tspan x="238.5">84767</tspan><tspan x="478.5">87455</tspan><tspan x="718.5">90293</tspan><tspan x="958.5">92831</tspan></text>
<text class="t c" y="102.5"><tspan x="238.5">71.98%</tspan><tspan x="478.5">90.86%</tspan><tspan x="718.5">78.36%</tspan><tspan x="958.5">65.86%</tspan></text>
</g>

<g id="row24" transform="translate(31.5,3448.5)">
<use href="#W"/><use href="#grid"/>
<use href="#pB"/><use href="#pB" x="240"/><use href="#pB" x="480"/><use href="#pB" x="720"/>
<rect class="ob" width="960" height="60"/>
<text class="t mn" y="-7.5"><tspan x=".5">93</tspan><tspan x="240.5">94</tspan><tspan x="480.5">95</tspan><tspan x="720.5">96</tspan></text>
<text class="t tp" y="-20"><tspan x="0">♩=85</tspan><tspan x="60">♩=90</tspan><tspan x="105">♩=87</tspan><tspan x="150">♩=85</tspan><tspan x="180">♩=89</tspan><tspan x="240">♩=87</tspan><tspan x="420">♩=86</tspan><tspan x="480">♩=82</tspan><tspan x="525">♩=86</tspan><tspan x="540">♩=89</tspan><tspan x="615">♩=93</tspan><tspan x="630">♩=97</tspan><tspan x="720">♩=83</tspan><tspan x="780">♩=89</tspan><tspan x="810">♩=88</tspan><tspan x="825">♩=86</tspan></text>
<text class="t a" y="76"><tspan x="238.5">224</tspan><tspan x="478.5">224</tspan><tspan x="718.5">224</tspan><tspan x="958.5">224</tspan></text>
<text class="t b" y="89.5"><tspan x="238.5">95519</tspan><tspan x="478.5">98207</tspan><tspan x="718.5">100895</tspan><tspan x="958.5">103583</tspan></text>
<text class="t c" y="102.5"><tspan x="238.5">53.36%</tspan><tspan x="478.5">40.86%</tspan><tspan x="718.5">28.36%</tspan><tspan x="958.5">15.86%</tspan></text>
</g>

<g id="row25" transform="translate(31.5,3589.5)">
<use href="#W"/><use href="#grid"/>
<use href="#pB"/><use href="#pB" x="240"/><use href="#pB" x="480"/><use href="#pB" x="720"/>
<rect class="ob" width="303.6" height="60"/>
<text class="t mn" y="-7.5"><tspan x=".5">97</tspan><tspan x="240.5">98</tspan><tspan x="480.5">99</tspan><tspan x="720.5">100</tspan></text>
<text class="t tp" y="-20"><tspan x="0">♩=85</tspan><tspan x="60">♩=88</tspan><tspan x="90">♩=87</tspan><tspan x="240">♩=85</tspan><tspan x="390">♩=89</tspan><tspan x="480">♩=87</tspan><tspan x="615">♩=92</tspan><tspan x="675">♩=80</tspan><tspan x="720">♩=86</tspan><tspan x="825">♩=90</tspan><tspan x="915">♩=82</tspan></text>
<text class="t a" y="76"><tspan x="238.5">224</tspan><tspan x="478.5">224</tspan><tspan x="718.5">224</tspan><tspan x="958.5">224</tspan></text>
<text class="t b" y="89.5"><tspan x="238.5">106271</tspan><tspan x="478.5">108119</tspan><tspan x="718.5">109463</tspan><tspan x="958.5">110807</tspan></text>
<text class="t c" y="102.5"><tspan x="238.5">3.36%</tspan><tspan x="478.5">0.00%</tspan><tspan x="718.5">0.00%</tspan><tspan x="958.5">0.00%</tspan></text>
</g>

<g id="row26" transform="translate(31.5,3730.5)">
<use href="#W"/>
<rect class="br" x="780" y="-10" width="180" height="80"/>
<use href="#grid"/>
<use href="#pB"/><use href="#pB" x="240"/>
<path class="so" d="M495 60H531"/><path class="sr" d="M780 15H906"/><path class="sy" d="M915 30H960"/>
<use href="#B" x="480"/><use href="#O" x="495"/><use href="#R" x="540"/><use href="#Y" x="555"/><use href="#B" x="570"/><use href="#O" x="585"/><use href="#R" x="600"/><use href="#Y" x="615"/><use href="#B" x="630"/><use href="#O" x="645"/><use href="#R" x="660"/><use href="#Y" x="675"/><use href="#B" x="690"/><use href="#O" x="705"/><use href="#R" x="780"/><use href="#Y" x="915"/>
<text class="t mn" y="-7.5"><tspan x=".5">101</tspan><tspan x="240.5">102</tspan><tspan x="480.5">103</tspan><tspan x="720.5">104</tspan></text>
<text class="t tp" y="-20"><tspan x="0">♩=87</tspan><tspan x="180">♩=85</tspan><tspan x="240">♩=89</tspan><tspan x="255">♩=91</tspan><tspan x="300">♩=88</tspan><tspan x="645">♩=86</tspan><tspan x="705">♩=93</tspan><tspan x="720">♩=95</tspan></text>
<text class="t a" y="76"><tspan x="238.5">224</tspan><tspan x="478.5">224</tspan><tspan x="718.5">358</tspan><tspan x="958.5">0</tspan></text>
<text class="t b" y="89.5"><tspan x="238.5">112151</tspan><tspan x="478.5">113495</tspan><tspan x="718.5">115643</tspan><tspan x="958.5">115643</tspan></text>
<text class="t c" y="102.5"><tspan x="238.5">0.00%</tspan><tspan x="478.5">0.00%</tspan><tspan x="718.5">0.00%</tspan><tspan x="958.5">0.00%</tspan></text>
</g>

<g id="row27" transform="translate(31.5,3871.5)">
<rect class="br" y="-10" width="690" height="80"/>
<use href="#grid"/>
<path class="sy" d="M0 30H30M105 30H637"/><path class="sr" d="M45 15H89"/>
<use href="#R" x="45"/><use href="#Y" x="105"/><use href="#R" x="660"/><use href="#G" x="720"/>
<text class="t mn" y="-7.5"><tspan x=".5">105</tspan><tspan x="240.5">106</tspan><tspan x="480.5">107</tspan><tspan x="720.5">108</tspan></text>
<text class="t tp" y="-20"><tspan x="300">♩=93</tspan><tspan x="420">♩=90</tspan><tspan x="480">♩=87</tspan><tspan x="630">♩=78</tspan><tspan x="720">♩=82</tspan></text>
<text class="t a" y="76"><tspan x="238.5">0</tspan><tspan x="478.5">0</tspan><tspan x="718.5">0</tspan><tspan x="958.5">0</tspan></text>
<text class="t b" y="89.5"><tspan x="238.5">115643</tspan><tspan x="478.5">115643</tspan><tspan x="718.5">115643</tspan><tspan x="958.5">121144</tspan></text>
<text class="t c" y="102.5"><tspan x="238.5">0.00%</tspan><tspan x="478.5">0.00%</tspan><tspan x="718.5">0.00%</tspan><tspan x="958.5">0.00%</tspan></text>
</g>
</svg>
